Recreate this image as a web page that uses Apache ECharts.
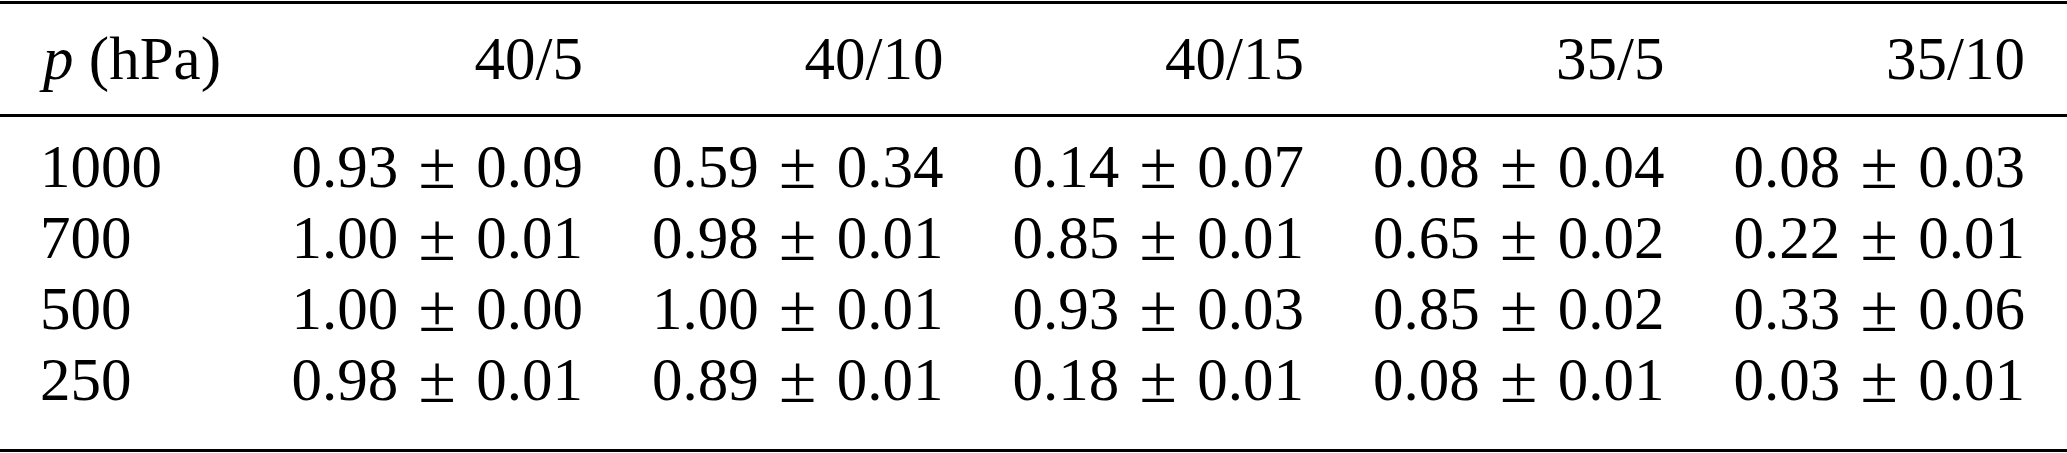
<!DOCTYPE html>
<html>
<head>
<meta charset="utf-8">
<style>
  html, body { margin: 0; padding: 0; background: #ffffff; }
  #chart { width: 2067px; height: 453px; }
</style>
<script src="https://cdn.jsdelivr.net/npm/echarts@6/dist/echarts.min.js"></script>
</head>
<body>
<div id="chart"></div>
<script>
// ---- data ----
const headerLabel = 'p';
const headerUnit = ' (hPa)';
const pressures = ['1000', '700', '500', '250'];
const columns = ['40/5', '40/10', '40/15', '35/5', '35/10'];
const mean1000 = [0.93, 0.59, 0.14, 0.08, 0.08];
const err1000  = [0.09, 0.34, 0.07, 0.04, 0.03];
const mean700  = [1.00, 0.98, 0.85, 0.65, 0.22];
const err700   = [0.01, 0.01, 0.01, 0.02, 0.01];
const mean500  = [1.00, 1.00, 0.93, 0.85, 0.33];
const err500   = [0.00, 0.01, 0.03, 0.02, 0.06];
const mean250  = [0.98, 0.89, 0.18, 0.08, 0.03];
const err250   = [0.01, 0.01, 0.01, 0.01, 0.01];

const means = [mean1000, mean700, mean500, mean250];
const errors = [err1000, err700, err500, err250];

// ---- layout (axis coordinates: columns 1..5, rows 1..4) ----
const ROW_LABEL_X = -0.506;
const HEADER_Y = -0.51;
const TOP_RULE_Y = -1.369;
const MID_RULE_Y = 0.2346;
const BOTTOM_RULE_Y = 4.9326;

const FONT = '"Liberation Serif", "Times New Roman", serif';
const FS = 61;
const SP = '\u2004'; // math-style spacing around the plus-minus sign

const headerCells = columns.map((c, i) => [i + 1, HEADER_Y, c]);
const rowCells = pressures.map((p, r) => [ROW_LABEL_X, r + 1, p]);
const bodyCells = [];
means.forEach((row, r) => {
  row.forEach((m, c) => {
    bodyCells.push([c + 1, r + 1, m.toFixed(2) + SP + '{pm|\u00B1}' + SP + errors[r][c].toFixed(2)]);
  });
});

const chart = echarts.init(document.getElementById('chart'), null, { renderer: 'canvas' });

const hidden = { color: 'rgba(0,0,0,0)', borderWidth: 0 };

const baseLabel = {
  show: true,
  position: 'inside',
  verticalAlign: 'middle',
  color: '#000000',
  opacity: 1,
  fontFamily: FONT,
  fontSize: FS,
  formatter: p => p.data[2]
};

chart.setOption({
  animation: false,
  backgroundColor: '#ffffff',
  grid: { left: 0, right: 0, top: 0, bottom: 0, containLabel: false },
  xAxis: { type: 'value', min: -0.6172, max: 5.1165, show: false },
  yAxis: { type: 'value', inverse: true, min: -1.3947, max: 4.9677, show: false },
  series: [
    {
      type: 'scatter',
      name: 'rules',
      data: [],
      silent: true,
      markLine: {
        silent: true,
        symbol: ['none', 'none'],
        label: { show: false },
        lineStyle: { color: '#000000', width: 3, type: 'solid' },
        emphasis: { disabled: true },
        data: [
          { yAxis: TOP_RULE_Y },
          { yAxis: MID_RULE_Y },
          { yAxis: BOTTOM_RULE_Y }
        ]
      }
    },
    {
      type: 'scatter',
      name: 'corner',
      symbolSize: 0,
      itemStyle: hidden,
      silent: true,
      data: [[ROW_LABEL_X, HEADER_Y, '']],
      label: {
        show: true,
        position: 'inside',
        align: 'left',
        verticalAlign: 'middle',
        color: '#000000',
        opacity: 1,
        fontFamily: FONT,
        fontSize: FS,
        formatter: () => '{i|' + headerLabel + '}' + headerUnit,
        rich: {
          i: { fontFamily: FONT, fontSize: FS, fontStyle: 'italic', color: '#000000', padding: [0, 0, 0, 3] }
        }
      }
    },
    {
      type: 'scatter',
      name: 'header',
      symbolSize: 0,
      itemStyle: hidden,
      silent: true,
      data: headerCells,
      label: Object.assign({}, baseLabel, { align: 'right' })
    },
    {
      type: 'scatter',
      name: 'pressure',
      symbolSize: 0,
      itemStyle: hidden,
      silent: true,
      data: rowCells,
      label: Object.assign({}, baseLabel, { align: 'left' })
    },
    {
      type: 'scatter',
      name: 'cells',
      symbolSize: 0,
      itemStyle: hidden,
      silent: true,
      data: bodyCells,
      label: Object.assign({}, baseLabel, {
        align: 'right',
        rich: {
          pm: { fontFamily: FONT, fontSize: 68, color: '#000000' }
        }
      })
    }
  ]
});
</script>
</body>
</html>
